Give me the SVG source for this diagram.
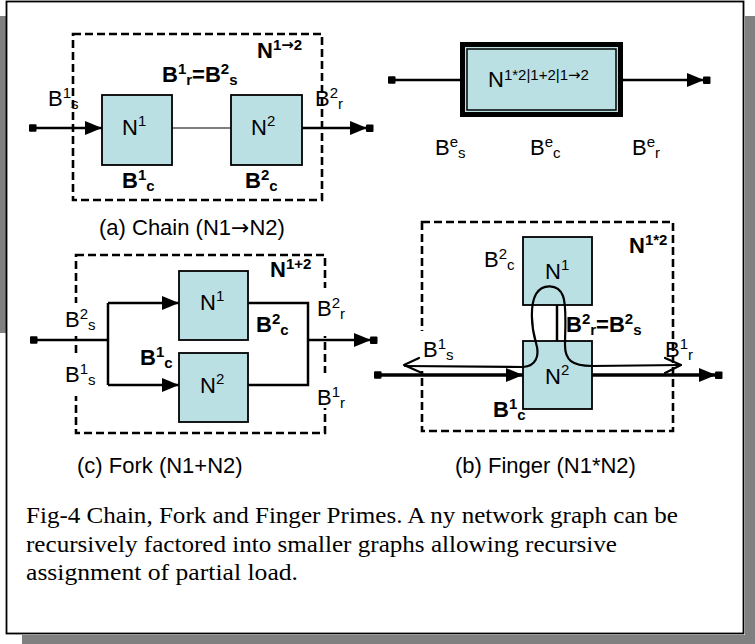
<svg xmlns="http://www.w3.org/2000/svg" width="755" height="644" viewBox="0 0 755 644">
<style>
.t{font-family:"Liberation Sans",Arial,sans-serif;font-size:22px;fill:#000}
.b{font-weight:bold}
.s{font-size:15px}
.ar{font-family:"DejaVu Sans","Liberation Sans",sans-serif}
.cap{font-family:"Liberation Serif","Times New Roman",serif;font-size:24px;fill:#000}
.box{fill:#BBE0E3;stroke:#000;stroke-width:1.8}
.dash{fill:none;stroke:#000;stroke-width:2.6;stroke-dasharray:8 4}
.ln{fill:none;stroke:#000;stroke-width:2.5}
.thin{fill:none;stroke:#000;stroke-width:1.2}
.loop{fill:none;stroke:#000;stroke-width:2.2;stroke-linejoin:round;stroke-linecap:round}
.shadow{fill:#808080}
</style>
<defs>
<marker id="arr" markerUnits="userSpaceOnUse" markerWidth="18" markerHeight="16" refX="17" refY="7" orient="auto"><path d="M0,0 L17,7 L0,14 z" fill="#000"/></marker>
<marker id="arrsq" markerUnits="userSpaceOnUse" markerWidth="26" markerHeight="16" refX="17" refY="7" orient="auto"><path d="M0,0 L17,7 L0,14 z" fill="#000"/><rect x="16" y="3.5" width="7.5" height="7.5" rx="1" fill="#000"/></marker>
<marker id="sq" markerUnits="userSpaceOnUse" markerWidth="10" markerHeight="10" refX="1" refY="4" orient="auto"><rect x="0" y="0.25" width="7.5" height="7.5" rx="1" fill="#000"/></marker>
</defs>
<rect width="755" height="644" fill="#fff"/>
<rect class="shadow" x="0" y="16" width="6" height="317"/>
<rect class="shadow" x="745" y="16" width="10" height="628"/>
<rect class="shadow" x="22" y="635" width="733" height="9"/>
<rect x="6.5" y="1.5" width="737" height="632" fill="#fff" stroke="#000" stroke-width="1.8"/>

<!-- dashed frames -->
<rect class="dash" x="73" y="34" width="249" height="166"/>
<rect class="dash" x="76" y="255" width="249" height="178"/>
<rect class="dash" x="422" y="222" width="251" height="209"/>
<!-- label backgrounds over dashed frames -->
<rect x="62" y="303" width="34" height="33" fill="#fff"/>
<rect x="62" y="354" width="34" height="42" fill="#fff"/>
<rect x="312" y="288" width="34" height="48" fill="#fff"/>
<rect x="312" y="373" width="34" height="35" fill="#fff"/>
<rect x="417" y="331" width="40" height="40" fill="#fff"/>

<!-- (a) Chain -->
<g id="chain-N1">
  <rect class="box" x="102" y="95" width="70" height="70"/>
  <text class="t" x="122" y="135">N<tspan class="s" dy="-9">1</tspan></text>
</g>
<g id="chain-N2">
  <rect class="box" x="231" y="95" width="71" height="70"/>
  <text class="t" x="251" y="135">N<tspan class="s" dy="-9">2</tspan></text>
</g>
<g id="chain-labels">
  <text class="t b" x="257" y="58">N<tspan class="s" dy="-8">1<tspan class="ar">→</tspan>2</tspan></text>
  <text class="t b" x="162" y="82">B<tspan class="s" dy="-8">1</tspan><tspan class="s" dy="11">r</tspan><tspan dy="-3">=B</tspan><tspan class="s" dy="-8">2</tspan><tspan class="s" dy="11">s</tspan></text>
  <text class="t" x="48" y="106">B<tspan class="s" dy="-8">1</tspan><tspan class="s" dy="11">s</tspan></text>
  <text class="t" x="315" y="106">B<tspan class="s" dy="-8">2</tspan><tspan class="s" dy="11">r</tspan></text>
  <text class="t b" x="122" y="188">B<tspan class="s" dy="-8">1</tspan><tspan class="s" dy="11">c</tspan></text>
  <text class="t b" x="245" y="188">B<tspan class="s" dy="-8">2</tspan><tspan class="s" dy="11">c</tspan></text>
  <text class="t" x="99" y="235">(a) Chain (N1<tspan class="ar">→</tspan>N2)</text>
</g>

<!-- equivalent node -->
<g id="equiv-node">
  <rect x="462.5" y="44.5" width="158" height="70" fill="#BBE0E3" stroke="#000" stroke-width="5"/>
  <rect x="467" y="49" width="149" height="61" fill="none" stroke="#000" stroke-width="1.5"/>
  <text class="t" x="488" y="87">N<tspan class="s" dy="-7">1*2|1+2|1<tspan class="ar">→</tspan>2</tspan></text>
</g>
<g id="equiv-labels">
  <text class="t" x="435" y="155">B<tspan class="s" dy="-8">e</tspan><tspan class="s" dy="11">s</tspan></text>
  <text class="t" x="530" y="155">B<tspan class="s" dy="-8">e</tspan><tspan class="s" dy="11">c</tspan></text>
  <text class="t" x="632" y="155">B<tspan class="s" dy="-8">e</tspan><tspan class="s" dy="11">r</tspan></text>
</g>

<!-- (c) Fork -->
<g id="fork-N1">
  <rect class="box" x="179" y="271" width="69" height="69"/>
  <text class="t" x="200" y="310">N<tspan class="s" dy="-9">1</tspan></text>
</g>
<g id="fork-N2">
  <rect class="box" x="179" y="353" width="69" height="69"/>
  <text class="t" x="200" y="393">N<tspan class="s" dy="-9">2</tspan></text>
</g>
<g id="fork-labels">
  <text class="t b" x="270" y="277">N<tspan class="s" dy="-8">1+2</tspan></text>
  <text class="t" x="65" y="327">B<tspan class="s" dy="-8">2</tspan><tspan class="s" dy="11">s</tspan></text>
  <text class="t" x="65" y="382">B<tspan class="s" dy="-8">1</tspan><tspan class="s" dy="11">s</tspan></text>
  <text class="t" x="317" y="316">B<tspan class="s" dy="-8">2</tspan><tspan class="s" dy="11">r</tspan></text>
  <text class="t" x="317" y="405">B<tspan class="s" dy="-8">1</tspan><tspan class="s" dy="11">r</tspan></text>
  <text class="t b" x="256" y="332">B<tspan class="s" dy="-8">2</tspan><tspan class="s" dy="11">c</tspan></text>
  <text class="t b" x="140" y="365">B<tspan class="s" dy="-8">1</tspan><tspan class="s" dy="11">c</tspan></text>
  <text class="t" x="77" y="473">(c) Fork (N1+N2)</text>
</g>

<!-- (b) Finger -->
<g id="finger-N1">
  <rect class="box" x="523" y="237" width="69" height="68"/>
  <text class="t" x="545" y="279">N<tspan class="s" dy="-9">1</tspan></text>
</g>
<g id="finger-N2">
  <rect class="box" x="523" y="341" width="69" height="68"/>
  <text class="t" x="545" y="384">N<tspan class="s" dy="-9">2</tspan></text>
</g>
<g id="finger-labels">
  <text class="t b" x="629" y="253">N<tspan class="s" dy="-8">1*2</tspan></text>
  <text class="t" x="484" y="267">B<tspan class="s" dy="-8">2</tspan><tspan class="s" dy="11">c</tspan></text>
  <text class="t b" x="566" y="332">B<tspan class="s" dy="-8">2</tspan><tspan class="s" dy="11">r</tspan><tspan dy="-3">=B</tspan><tspan class="s" dy="-8">2</tspan><tspan class="s" dy="11">s</tspan></text>
  <text class="t" x="423" y="357">B<tspan class="s" dy="-8">1</tspan><tspan class="s" dy="11">s</tspan></text>
  <text class="t" x="665" y="357">B<tspan class="s" dy="-8">1</tspan><tspan class="s" dy="11">r</tspan></text>
  <text class="t b" x="493" y="417">B<tspan class="s" dy="-8">1</tspan><tspan class="s" dy="11">c</tspan></text>
  <text class="t" x="455" y="473">(b) Finger (N1*N2)</text>
</g>

<g id="connectors">
  <!-- chain -->
  <path class="ln" d="M30,128 L102,128" marker-start="url(#sq)" marker-end="url(#arr)"/>
  <path class="thin" d="M172,128 L231,128"/>
  <path class="ln" d="M302,128 L367,128" marker-end="url(#arrsq)"/>
  <!-- equivalent node -->
  <path class="ln" d="M389,80 L460,80" marker-start="url(#sq)"/>
  <path class="ln" d="M623,80 L704,80" marker-end="url(#arrsq)"/>
  <!-- fork -->
  <path class="ln" d="M31,340 L108,340" marker-start="url(#sq)"/>
  <path class="ln" d="M108,303 L108,385"/>
  <path class="ln" d="M108,303 L179,303" marker-end="url(#arr)"/>
  <path class="ln" d="M108,385 L179,385" marker-end="url(#arr)"/>
  <path class="ln" d="M248,303 L308,303 L308,385 L248,385"/>
  <path class="ln" d="M308,340 L371,340" marker-end="url(#arrsq)"/>
  <!-- finger -->
  <path class="ln" d="M557,305 L557,341"/>
  <path class="ln" style="stroke-width:3.5" d="M375,375 L523,375" marker-start="url(#sq)" marker-end="url(#arr)"/>
  <path class="ln" style="stroke-width:3.5" d="M592,375 L716,375" marker-end="url(#arrsq)"/>
  <path class="loop" d="M405,366 L523,367 C536,366 540,356 536,343 C531,326 530,305 536,294 C542,284 558,283 563,296 C567,306 565,330 565,345 C565,360 572,366 592,366 L681,365"/>
  <polyline class="loop" points="419,358 404,365 422,373"/>
  <polyline class="loop" points="665,358 681,365 665,373"/>
</g>

<g id="caption">
  <text class="cap" x="26" y="523" textLength="652" lengthAdjust="spacingAndGlyphs">Fig-4 Chain, Fork and Finger Primes. A ny network graph can be</text>
  <text class="cap" x="26" y="552" textLength="591" lengthAdjust="spacingAndGlyphs">recursively factored into smaller graphs allowing recursive</text>
  <text class="cap" x="26" y="580" textLength="272" lengthAdjust="spacingAndGlyphs">assignment of partial load.</text>
</g>
</svg>
